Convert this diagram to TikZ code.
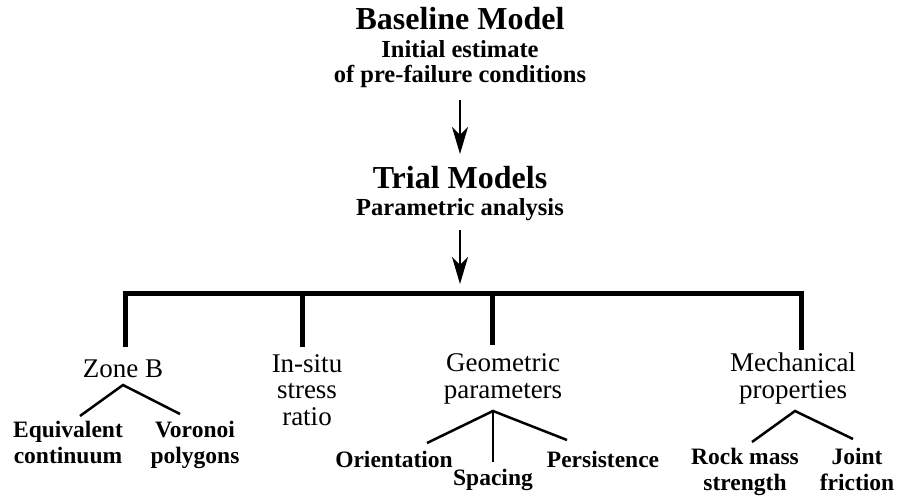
\documentclass[tikz,border=0pt]{standalone}
\usepackage{fontspec}
\setmainfont{Liberation Serif}
\usetikzlibrary{arrows.meta}

\tikzset{
  head/.style={font=\bfseries\fontsize{32}{36}\selectfont, anchor=base, inner sep=0pt},
  sub/.style={font=\bfseries\fontsize{24.5}{25.5}\selectfont, align=center, anchor=base, inner sep=0pt},
  branch/.style={font=\fontsize{27}{26.5}\selectfont, align=center, anchor=base, inner sep=0pt},
  leaf/.style={font=\bfseries\fontsize{23.5}{26}\selectfont, align=center, anchor=base, inner sep=0pt},
  down/.style={line width=2pt, -{Stealth[length=27pt,width=16pt,inset=8pt]}},
  bar/.style={line width=5pt, line join=miter},
  twig/.style={line width=2.5pt},
}

\begin{document}
\begin{tikzpicture}[x=1pt,y=-1pt]
\useasboundingbox (0,0) rectangle (899,497);

% multi-line nodes sit on the baseline of their last line
\node[head] (base) at (460,30) {Baseline Model};
\node[sub] (init) at (460,83) {Initial estimate\\of pre-failure conditions};
\node[head] (trial) at (460,189) {Trial Models};
\node[sub] (param) at (460,215) {Parametric analysis};

\coordinate (a1) at (460,100);
\coordinate (b1) at (460,154);
\coordinate (a2) at (460,230);
\coordinate (b2) at (460,284);
\path[draw,down] (a1) -- (b1);
\path[draw,down] (a2) -- (b2);

% main bar
\coordinate (barl) at (125,293);
\coordinate (barr) at (801,293);
\coordinate (zbtop) at (125,347);
\coordinate (istop) at (302,347);
\coordinate (gptop) at (492,345);
\coordinate (mptop) at (801,350);
\coordinate (isbar) at (302,293);
\coordinate (gpbar) at (492,293);
\path[draw,bar] (zbtop) -- (barl) -- (barr) -- (mptop);
\path[draw,bar] (isbar) -- (istop);
\path[draw,bar] (gpbar) -- (gptop);

\node[branch] (zoneb) at (123,377) {Zone B};
\node[branch] (insitu) at (307,425) {In-situ\\stress\\ratio};
\node[branch] (geom) at (503,398) {Geometric\\parameters};
\node[branch] (mech) at (793,398) {Mechanical\\properties};

\node[leaf] (equiv) at (68,463) {Equivalent\\continuum};
\node[leaf] (voro) at (195,463) {Voronoi\\polygons};
\node[leaf] (orient) at (394,467) {Orientation};
\node[leaf] (spac) at (493,485) {Spacing};
\node[leaf] (pers) at (603,467) {Persistence};
\node[leaf] (rock) at (745,490) {Rock mass\\strength};
\node[leaf] (joint) at (857,490) {Joint\\friction};

\coordinate (zbapex) at (123,385);
\coordinate (eqtop) at (80,416);
\coordinate (vototop) at (180,414);
\path[draw,twig] (eqtop) -- (zbapex) -- (vototop);

\coordinate (gpapex) at (493,411);
\coordinate (ortop) at (427,443);
\coordinate (sptop) at (493,462);
\coordinate (petop) at (567,440);
\path[draw,twig] (ortop) -- (gpapex) -- (petop);
\path[draw,twig] (gpapex) -- (sptop);

\coordinate (mpapex) at (795,411);
\coordinate (rotop) at (752,442);
\coordinate (jotop) at (853,439);
\path[draw,twig] (rotop) -- (mpapex) -- (jotop);
\end{tikzpicture}
\end{document}
